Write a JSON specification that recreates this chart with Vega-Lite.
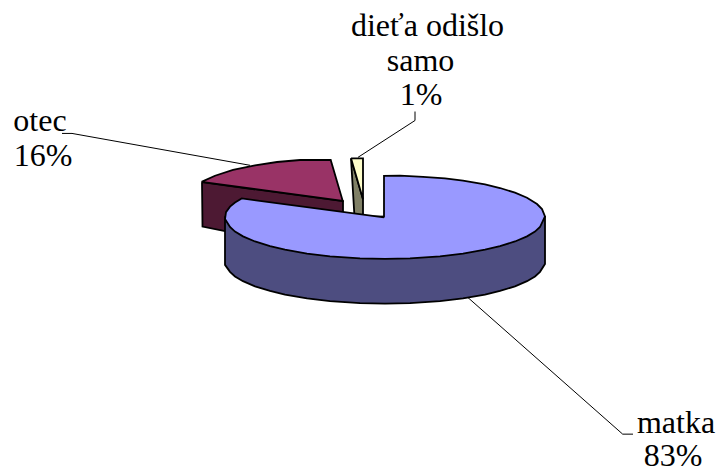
{"$schema":"https://vega.github.io/schema/vega-lite/v6.json","width":720,"height":472,"autosize":{"type":"fit","contains":"padding"},"padding":0,"background":"white","view":{"stroke":null},
"datasets":{"shapes":[
{"s":"lead1","i":0,"x":62,"y":134},{"s":"lead1","i":1,"x":72,"y":134},{"s":"lead1","i":2,"x":250,"y":166},
{"s":"lead2","i":0,"x":415,"y":112},{"s":"lead2","i":1,"x":415,"y":121},{"s":"lead2","i":2,"x":358,"y":158},
{"s":"lead3","i":0,"x":467,"y":298},{"s":"lead3","i":1,"x":622.7,"y":436},{"s":"lead3","i":2,"x":633,"y":436},
{"s":"redside","i":0,"x":202,"y":183},{"s":"redside","i":1,"x":343,"y":202},{"s":"redside","i":2,"x":343,"y":222},{"s":"redside","i":3,"x":225,"y":232},{"s":"redside","i":4,"x":202.5,"y":227.5},{"s":"redside","i":5,"x":202,"y":183},
{"s":"redtop","i":0,"x":201.5,"y":182.7},{"s":"redtop","i":1,"x":215,"y":176.5},{"s":"redtop","i":2,"x":233,"y":170.7},{"s":"redtop","i":3,"x":255,"y":166},{"s":"redtop","i":4,"x":277,"y":162.7},{"s":"redtop","i":5,"x":300,"y":160.7},{"s":"redtop","i":6,"x":330.7,"y":160.7},{"s":"redtop","i":7,"x":342.7,"y":201.7},{"s":"redtop","i":8,"x":201.5,"y":182.7},
{"s":"olive","i":0,"x":351,"y":159},{"s":"olive","i":1,"x":363,"y":200},{"s":"olive","i":2,"x":363,"y":218},{"s":"olive","i":3,"x":354.5,"y":218},{"s":"olive","i":4,"x":351,"y":159},
{"s":"yellow","i":0,"x":351,"y":159},{"s":"yellow","i":1,"x":363,"y":159},{"s":"yellow","i":2,"x":363,"y":200},{"s":"yellow","i":3,"x":351,"y":159},
{"s":"blueside","i":0,"x":545,"y":217},{"s":"blueside","i":1,"x":545,"y":265},{"s":"blueside","i":2,"x":540,"y":273},{"s":"blueside","i":3,"x":535,"y":277.6},{"s":"blueside","i":4,"x":527,"y":282.4},{"s":"blueside","i":5,"x":515,"y":287.5},{"s":"blueside","i":6,"x":500,"y":292.2},{"s":"blueside","i":7,"x":485,"y":295.8},{"s":"blueside","i":8,"x":463,"y":299.7},{"s":"blueside","i":9,"x":440,"y":302.4},{"s":"blueside","i":10,"x":410,"y":304.5},{"s":"blueside","i":11,"x":385,"y":305},{"s":"blueside","i":12,"x":360,"y":304.5},{"s":"blueside","i":13,"x":330,"y":302.4},{"s":"blueside","i":14,"x":307,"y":299.7},{"s":"blueside","i":15,"x":285,"y":295.8},{"s":"blueside","i":16,"x":270,"y":292.2},{"s":"blueside","i":17,"x":255,"y":287.5},{"s":"blueside","i":18,"x":243,"y":282.4},{"s":"blueside","i":19,"x":235,"y":277.6},{"s":"blueside","i":20,"x":230,"y":273},{"s":"blueside","i":21,"x":225,"y":266},{"s":"blueside","i":22,"x":225,"y":218},{"s":"blueside","i":23,"x":545,"y":217},
{"s":"bluetop","i":0,"x":384,"y":218.3},{"s":"bluetop","i":1,"x":384,"y":176.7},{"s":"bluetop","i":2,"x":400,"y":176.4},{"s":"bluetop","i":3,"x":423,"y":177.7},{"s":"bluetop","i":4,"x":445,"y":179.2},{"s":"bluetop","i":5,"x":463,"y":181.5},{"s":"bluetop","i":6,"x":485,"y":185.2},{"s":"bluetop","i":7,"x":500,"y":188.8},{"s":"bluetop","i":8,"x":515,"y":193.5},{"s":"bluetop","i":9,"x":527,"y":198.6},{"s":"bluetop","i":10,"x":537,"y":204.9},{"s":"bluetop","i":11,"x":542,"y":210},{"s":"bluetop","i":12,"x":545,"y":217.3},{"s":"bluetop","i":13,"x":540,"y":228},{"s":"bluetop","i":14,"x":535,"y":232.6},{"s":"bluetop","i":15,"x":527,"y":237.4},{"s":"bluetop","i":16,"x":515,"y":242.5},{"s":"bluetop","i":17,"x":500,"y":247.2},{"s":"bluetop","i":18,"x":485,"y":250.8},{"s":"bluetop","i":19,"x":463,"y":254.7},{"s":"bluetop","i":20,"x":440,"y":257.4},{"s":"bluetop","i":21,"x":410,"y":259.5},{"s":"bluetop","i":22,"x":385,"y":260},{"s":"bluetop","i":23,"x":360,"y":259.5},{"s":"bluetop","i":24,"x":330,"y":257.4},{"s":"bluetop","i":25,"x":307,"y":254.7},{"s":"bluetop","i":26,"x":285,"y":250.8},{"s":"bluetop","i":27,"x":270,"y":247.2},{"s":"bluetop","i":28,"x":255,"y":242.5},{"s":"bluetop","i":29,"x":243,"y":237.4},{"s":"bluetop","i":30,"x":235,"y":232.6},{"s":"bluetop","i":31,"x":230,"y":228},{"s":"bluetop","i":32,"x":225,"y":220},{"s":"bluetop","i":33,"x":226,"y":213},{"s":"bluetop","i":34,"x":230,"y":207.5},{"s":"bluetop","i":35,"x":235,"y":203.4},{"s":"bluetop","i":36,"x":241.7,"y":199.3},{"s":"bluetop","i":37,"x":384,"y":218.3}
],
"labels":[
{"t":"dieťa odišlo","x":427.5,"y":36},{"t":"samo","x":420.5,"y":71},{"t":"1%","x":421,"y":105},
{"t":"otec","x":40,"y":132},{"t":"16%","x":43,"y":167},
{"t":"matka","x":676,"y":435},{"t":"83%","x":673,"y":468}
]},
"data":{"name":"shapes"},
"encoding":{"x":{"field":"x","type":"quantitative","axis":null,"scale":{"domain":[0,720],"nice":false,"zero":false}},"y":{"field":"y","type":"quantitative","axis":null,"scale":{"domain":[472,0],"nice":false,"zero":false}},"order":{"field":"i","type":"quantitative"}},
"layer":[
{"transform":[{"filter":"indexof(['lead1','lead2','lead3'],datum.s)>=0"}],"mark":{"type":"line","stroke":"#000000","strokeWidth":1},"encoding":{"detail":{"field":"s"}}},
{"transform":[{"filter":"datum.s==='redside'"}],"mark":{"type":"line","fill":"#4D1933","stroke":"#000000","strokeWidth":1.8}},
{"transform":[{"filter":"datum.s==='redtop'"}],"mark":{"type":"line","fill":"#993366","stroke":"#000000","strokeWidth":1.8}},
{"transform":[{"filter":"datum.s==='olive'"}],"mark":{"type":"line","fill":"#808066","stroke":"#000000","strokeWidth":1.8}},
{"transform":[{"filter":"datum.s==='yellow'"}],"mark":{"type":"line","fill":"#FFFFCC","stroke":"#000000","strokeWidth":1.8}},
{"transform":[{"filter":"datum.s==='blueside'"}],"mark":{"type":"line","fill":"#4D4D80","stroke":"#000000","strokeWidth":1.8}},
{"transform":[{"filter":"datum.s==='bluetop'"}],"mark":{"type":"line","fill":"#9999FF","stroke":"#000000","strokeWidth":1.8}},
{"data":{"name":"labels"},"mark":{"type":"text","font":"Liberation Serif","fontSize":32,"align":"center","baseline":"alphabetic","color":"#000000"},"encoding":{"text":{"field":"t"},"order":null}}
]}
